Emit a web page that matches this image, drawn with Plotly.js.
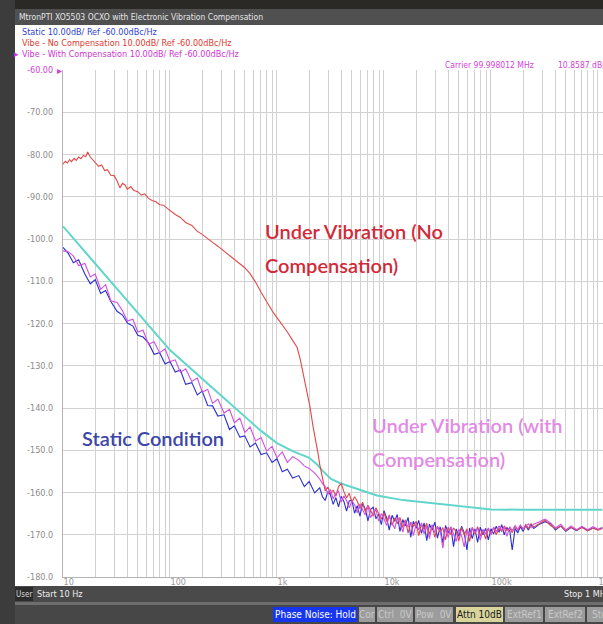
<!DOCTYPE html>
<html><head><meta charset="utf-8">
<script src="https://cdn.plot.ly/plotly-3.0.1.min.js"></script>
<style>html,body{margin:0;padding:0;background:#fff;overflow:hidden}#chart{width:603px;height:624px;}</style>
</head><body><div id="chart"></div>
<script>
// ---------- data ----------
// low-frequency grid shared by Static and Vibe-with-compensation (10 Hz .. 2.25 kHz)
const freqStaticLow = [
 10,11.2,12.5,14,16,18,20,22.5,25,28,32,36,40,45,50,56,63,71,80,90,
 100,112,125,140,160,180,200,225,250,280,320,360,400,450,500,560,630,710,800,900,
 1000,1120,1250,1400,1600,1800,2000,2250];
// low-frequency grid of Vibe-no-compensation (10 Hz .. 2.41 kHz)
const freqVibeLow = [
 10,10.5,11,11.5,12,12.7,13.3,14,14.7,15.5,
 16.3,17,18,19,20,21.5,23,24.5,26,28,
 30,32,34,36,38,40,43,46,50,54,
 58,63,68,74,80,87,95,100,112,125,
 140,160,180,200,225,250,280,320,360,400,
 450,500,560,630,710,800,900,1000,1120,1250,
 1400,1540,1650,1750,1900,2030,2170,2300,2410];
// noise-floor grid shared by all three measured traces (2.51 kHz .. 1.1 MHz)
const freqFloor = [
 2510,2660,2820,2990,3160,3350,3550,3760,3980,4220,
 4470,4730,5010,5310,5620,5960,6310,6680,7080,7500,
 7940,8410,8910,9440,10000,10600,11200,11900,12600,13300,
 14100,15000,15800,16800,17800,18800,20000,21100,22400,23700,
 25100,26600,28200,29900,31600,33500,35500,37600,39800,42200,
 44700,47300,50100,53100,56200,59600,63100,66800,70800,75000,
 79400,84100,89100,94400,100000,106000,112000,119000,126000,133000,
 141000,150000,158000,168000,178000,188000,200000,211000,224000,237000,
 251000,280000,320000,360000,400000,450000,500000,560000,630000,710000,
 800000,900000,1000000,1100000];

const staticLowDb = [
 -102.0,-103.4,-105.6,-104.9,-108.3,-110.6,-109.6,-112.9,-112.2,-114.8,-117.1,-118.0,-119.9,-120.6,-122.8,-123.2,-124.6,-127.3,-126.9,-129.6,
 -129.0,-131.5,-131.0,-134.4,-134.0,-136.9,-136.0,-139.4,-139.5,-141.9,-141.6,-145.1,-144.2,-146.9,-146.6,-149.2,-148.3,-151.0,-150.6,-152.9,
 -152.0,-155.1,-154.5,-156.6,-156.0,-158.6,-157.4,-160.1];
const staticFloorDb = [
 -158.9,-161.0,-161.9,-159.8,-160.6,-162.8,-161.2,-163.4,-160.9,-162.1,
 -164.4,-162.0,-161.8,-164.9,-163.1,-165.6,-162.6,-163.9,-166.7,-164.0,
 -163.5,-166.2,-165.1,-167.6,-164.3,-166.0,-168.9,-165.4,-166.8,-165.2,
 -169.2,-166.4,-167.9,-165.9,-170.6,-166.8,-168.4,-166.6,-169.7,-167.2,
 -171.4,-167.5,-168.9,-167.0,-170.8,-168.1,-172.0,-167.8,-169.6,-168.2,
 -172.8,-168.6,-170.4,-168.0,-169.5,-173.6,-168.4,-170.9,-168.6,-171.8,
 -168.2,-170.0,-168.5,-171.2,-168.6,-169.8,-168.0,-169.4,-167.6,-170.0,
 -168.3,-169.1,-173.6,-168.5,-169.6,-168.1,-169.2,-167.8,-168.9,-167.6,
 -168.5,-167.6,-166.9,-167.4,-168.9,-167.9,-169.2,-168.3,-169.0,-168.2,
 -169.0,-168.4,-168.8,-168.4];
const withCompLowDb = [
 -102.8,-103.0,-104.0,-106.3,-105.8,-109.0,-108.3,-111.9,-110.8,-114.6,-115.0,-117.0,-119.4,-119.0,-122.0,-121.6,-124.9,-124.3,-126.9,-126.0,
 -129.0,-128.6,-131.6,-130.7,-133.7,-132.9,-136.2,-135.6,-138.9,-137.9,-141.2,-140.3,-143.5,-142.4,-145.8,-144.5,-147.8,-147.0,-150.2,-149.1,
 -151.8,-150.4,-152.9,-151.5,-152.4,-153.7,-154.3,-155.4];
const withCompFloorDb = [
 -156.8,-157.9,-158.6,-160.4,-159.3,-161.5,-160.2,-159.6,-162.3,-160.8,
 -161.9,-163.6,-162.0,-162.9,-164.8,-162.7,-164.1,-165.3,-163.2,-166.0,
 -164.6,-164.0,-166.8,-165.0,-166.2,-167.8,-165.6,-167.1,-168.6,-166.0,
 -167.0,-169.4,-166.7,-168.2,-167.1,-170.2,-167.4,-168.8,-167.2,-169.8,
 -168.0,-170.9,-167.6,-169.5,-168.2,-169.0,-173.2,-168.4,-170.6,-168.1,
 -169.9,-171.6,-168.6,-170.2,-172.9,-168.8,-170.3,-168.2,-169.6,-168.5,
 -171.3,-168.7,-169.8,-168.4,-170.1,-168.2,-169.3,-167.9,-168.9,-168.3,
 -170.4,-168.1,-169.0,-167.8,-168.8,-167.7,-168.6,-168.0,-167.4,-168.3,
 -167.5,-167.0,-166.3,-167.2,-168.4,-167.5,-168.9,-167.9,-168.8,-168.0,
 -168.8,-168.1,-168.7,-168.2];
const noCompLowDb = [
 -82.3,-81.6,-82.0,-81.2,-81.7,-80.9,-81.4,-80.6,-81.0,-80.2,
 -80.5,-79.4,-80.6,-81.2,-81.8,-82.8,-82.5,-83.8,-83.6,-84.9,
 -85.0,-86.2,-87.9,-86.8,-87.2,-88.2,-87.6,-88.5,-88.8,-89.6,
 -89.3,-90.4,-90.9,-91.2,-91.9,-92.0,-92.8,-93.3,-94.2,-94.9,
 -96.1,-96.8,-98.2,-98.9,-100.0,-100.8,-101.7,-102.9,-104.0,-105.0,
 -105.9,-106.8,-108.2,-110.2,-112.6,-115.0,-117.0,-118.6,-120.2,-122.0,
 -124.0,-125.6,-128.5,-131.6,-135.5,-139.6,-144.3,-147.5,-150.5];
const noCompFloorDb = [
 -153.4,-157.0,-159.6,-158.7,-160.3,-159.4,-160.9,-158.6,-157.9,-159.8,
 -161.3,-160.2,-162.4,-161.0,-162.0,-163.8,-162.3,-164.5,-163.0,-164.2,
 -165.6,-163.6,-165.0,-166.3,-164.8,-166.9,-165.3,-167.8,-166.0,-167.4,
 -165.9,-168.3,-166.5,-169.6,-167.0,-168.0,-166.8,-170.2,-167.6,-168.7,
 -167.3,-169.9,-167.8,-170.6,-168.0,-169.4,-168.3,-171.2,-168.2,-170.0,
 -168.4,-169.3,-171.5,-168.3,-170.1,-168.6,-171.6,-168.4,-169.9,-168.1,
 -170.3,-168.9,-171.0,-168.6,-169.7,-168.3,-170.0,-168.4,-169.2,-167.9,
 -169.0,-168.4,-169.5,-168.0,-168.9,-167.8,-168.7,-167.6,-168.5,-167.4,
 -168.2,-167.5,-166.5,-167.8,-168.5,-168.0,-169.0,-168.2,-168.9,-168.3,
 -169.1,-168.4,-168.9,-168.5];
const freqLimit = [10,20,50,100,200,400,700,1000,1400,2000,2400,2700,3200,3900,6000,8600,15000,30000,50000,100000,200000,1100000];
const limitDb = [-97.0,-105.8,-117.3,-126.3,-133.1,-139.9,-145.3,-148.3,-150.2,-151.8,-153.5,-155.0,-156.8,-157.8,-159.3,-160.7,-161.8,-162.6,-163.2,-164.0,-164.1,-164.1];

const xTickVals = [10,20,30,40,50,60,70,80,90,100,200,300,400,500,600,700,800,900,
 1000,2000,3000,4000,5000,6000,7000,8000,9000,10000,20000,30000,40000,50000,60000,70000,80000,90000,
 100000,200000,300000,400000,500000,600000,700000,800000,900000,1000000];
const xTickText = ['10','','','','','','','','','100','','','','','','','','',
 '1k','','','','','','','','','10k','','','','','','','','',
 '100k','','','','','','','','','1M'];
const yTickVals = [-60,-70,-80,-90,-100,-110,-120,-130,-140,-150,-160,-170,-180];
const yTickText = ['<span style="color:#d23fd6">-60.00</span>','-70.00','-80.00','-90.00','-100.0','-110.0','-120.0','-130.0','-140.0','-150.0','-160.0','-170.0','-180.0'];

// ---------- layout helpers ----------
const L = 63, W = 540, T = 70, H = 507;
const px = x => (x - L) / W;
const py = y => (T + H - y) / H;
const SF = 'Liberation Sans Narrow, DejaVu Sans Condensed, Liberation Sans, sans-serif';
const BIG = 'Lato, Open Sans, sans-serif';

function rect(x0, y0, x1, y1, fill) {
  return {type:'rect', xref:'paper', yref:'paper', x0:px(x0), x1:px(x1), y0:py(y1), y1:py(y0),
          fillcolor:fill, line:{width:0}, layer:'above'};
}
function txt(text, x, y, color, size, anchor, fam) {
  return {xref:'paper', yref:'paper', x:px(x), y:py(y), text:text, showarrow:false,
          xanchor:anchor || 'left', yanchor:'middle', font:{family:fam || SF, size:size || 9, color:color}};
}
function big(text, f, db, color) {
  return {xref:'x', yref:'y', x:Math.log10(f), y:db, text:text, showarrow:false,
          xanchor:'left', yanchor:'middle', align:'left', font:{family:BIG, size:20, color:color, weight:600}};
}

const shapes = [
  rect(0, 0, 603, 9, '#2b2925'),
  rect(0, 9, 603, 25, '#505050'),
  rect(0, 0, 15, 624, '#3c3c3c'),
  rect(15, 586, 603, 602, '#4a4a4a'),
  rect(15, 587, 33, 601, '#2c2c2c'),
  rect(15, 602, 603, 605, '#6e6e6e'),
  rect(15, 605, 603, 624, '#474747')
];
const annotations = [
  txt('MtronPTI XO5503 OCXO with Electronic Vibration Compensation', 17, 17, '#e4e4e4', 8.5),
  txt('Static 10.00dB/ Ref -60.00dBc/Hz', 20, 32, '#2f3fd0', 9),
  txt('Vibe - No Compensation 10.00dB/ Ref -60.00dBc/Hz', 20, 43, '#e0392f', 9),
  txt('Vibe - With Compensation 10.00dB/ Ref -60.00dBc/Hz', 20, 54, '#cf36d2', 9),
  txt('\u25B8', 12, 54, '#cf36d2', 9, 'left', 'DejaVu Sans'),
  txt('\u25B8', 64, 70, '#d23fd6', 10, 'right', 'DejaVu Sans'),
  txt('Carrier 99.998012 MHz', 443, 65, '#d23fd6', 8.5),
  txt('10.8587 dBm', 556, 65, '#d23fd6', 8.5),
  txt('User', 14, 594, '#d8d8d8', 8),
  txt('Start 10 Hz', 35, 594, '#eeeeee', 9),
  txt('Stop 1 MHz', 562, 594, '#eeeeee', 9),
  big('Under Vibration (No', 740, -98.1, '#d22a38'),
  big('Compensation)', 740, -106.2, '#d22a38'),
  big('Static Condition', 14.4, -147.1, '#3b46a8'),
  big('Under Vibration (with', 7400, -144.0, '#e38ae6'),
  big('Compensation)', 7400, -152.1, '#e38ae6')
];
const btnText = ['Phase Noise: Hold','Cor','Ctrl  0V','Pow  0V','Attn 10dB','ExtRef1','ExtRef2','Sto'];
const btnX = [[273,357],[359,375],[377,413],[415,453],[456,503],[505,543],[545,585],[587,612]];
const btnBg = ['#1636ee','#9c9c9c','#9c9c9c','#9c9c9c','#d8d49c','#9c9c9c','#9c9c9c','#9c9c9c'];
const btnFg = ['#ffffff','#c8c8c8','#c8c8c8','#c8c8c8','#202020','#c8c8c8','#c8c8c8','#c8c8c8'];
btnText.forEach((t, i) => {
  shapes.push(rect(btnX[i][0], 607, btnX[i][1], 622, btnBg[i]));
  annotations.push(txt(t, (btnX[i][0] + btnX[i][1]) / 2, 614.5, btnFg[i], 10, 'center'));
});

const traces = [
  {x:freqLimit, y:limitDb, type:'scatter', mode:'lines', line:{color:'#5fd6c9', width:2}},
  {x:freqStaticLow.concat(freqFloor), y:staticLowDb.concat(staticFloorDb), type:'scatter', mode:'lines', line:{color:'#2a2fd0', width:1.1}},
  {x:freqVibeLow.concat(freqFloor), y:noCompLowDb.concat(noCompFloorDb), type:'scatter', mode:'lines', line:{color:'#e04848', width:1.1}},
  {x:freqStaticLow.concat(freqFloor), y:withCompLowDb.concat(withCompFloorDb), type:'scatter', mode:'lines', line:{color:'#d24ee0', width:1.1}}
];

const layout = {
  width:603, height:624, showlegend:false,
  margin:{l:L, r:0, t:T, b:624 - T - H, pad:0},
  paper_bgcolor:'#ffffff', plot_bgcolor:'#ffffff',
  xaxis:{type:'log', range:[1, 6.047], tickmode:'array', tickvals:xTickVals, ticktext:xTickText,
         showgrid:true, gridcolor:'#d2d2d2', gridwidth:1, ticks:'', zeroline:false,
         showline:true, linecolor:'#b4b4b4', linewidth:1, ticklabelstandoff:-4,
         ticklabelposition:'outside right', ticklabeloverflow:'allow',
         tickfont:{family:SF, size:9, color:'#9a9a9a'}},
  yaxis:{range:[-180, -60], tickmode:'array', tickvals:yTickVals, ticktext:yTickText,
         showgrid:true, gridcolor:'#d2d2d2', gridwidth:1, ticks:'', zeroline:false,
         showline:true, linecolor:'#b4b4b4', linewidth:1, ticklabelstandoff:7,
         tickfont:{family:SF, size:9, color:'#8c8c8c'}},
  shapes:shapes, annotations:annotations
};
Plotly.newPlot('chart', traces, layout, {staticPlot:true, displayModeBar:false});
</script></body></html>
